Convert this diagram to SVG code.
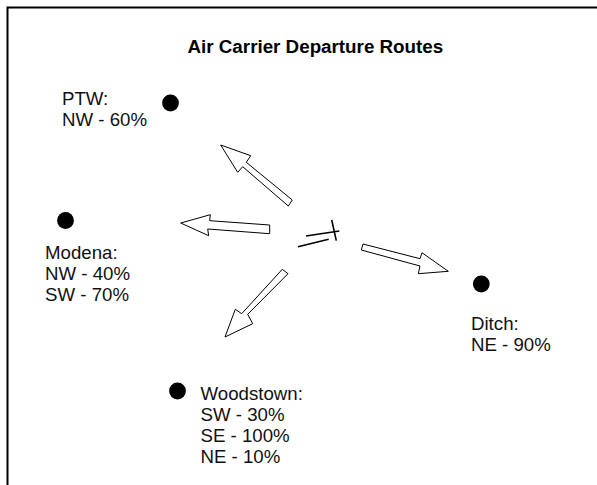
<svg xmlns="http://www.w3.org/2000/svg" width="597" height="485" viewBox="0 0 597 485">
<style>
text{font-family:"Liberation Sans",Arial,sans-serif;font-size:18.67px;fill:#111}
.t{font-weight:bold;font-size:18.8px;fill:#000}
.a{fill:#fff;stroke:#000;stroke-width:1}
.r{fill:none;stroke:#000;stroke-width:1.6}
.d{fill:#000}
</style>
<rect width="597" height="485" fill="#fff"/>
<path id="frame" d="M7.500 485V7.500H597" fill="none" stroke="#000" stroke-width="2"/>
<text id="title" class="t" x="187.500" y="53">Air Carrier Departure Routes</text>
<g id="ptw"><circle class="d" cx="170.500" cy="103" r="8.400"/><text x="62" y="105">PTW:</text><text x="62" y="126">NW - 60%</text></g>
<g id="modena"><circle class="d" cx="65.500" cy="220.500" r="8.400"/><text x="45" y="259">Modena:</text><text x="45" y="280">NW - 40%</text><text x="45" y="301">SW - 70%</text></g>
<g id="ditch"><circle class="d" cx="481.300" cy="284" r="8.400"/><text x="471" y="330">Ditch:</text><text x="471" y="351">NE - 90%</text></g>
<g id="woodstown"><circle class="d" cx="177.500" cy="391" r="8.400"/><text x="200.500" y="400">Woodstown:</text><text x="200.500" y="421">SW - 30%</text><text x="200.500" y="442">SE - 100%</text><text x="200.500" y="463">NE - 10%</text></g>
<g id="connectors">
<polygon class="a" points="220.700,145 250.700,155.700 246.300,162.300 292.300,200 288.300,206 242.700,166.700 237.700,172.300"/>
<polygon class="a" points="180.700,223 210.300,214.700 209.700,220.700 269.700,225 269.700,233.700 207.700,229 208.700,235.700"/>
<polygon class="a" points="282.300,269.300 288,273.700 247.700,314.300 252.700,323.700 225,337 235.300,309.300 241.700,313.700"/>
<polygon class="a" points="363,244 361.300,250 420,266 418.300,273.700 448.300,271.300 422,252.700 420,258.700"/>
<path class="r" d="M306 236L339.300 231M298 246.700L328.700 239.300M331.700 220L336.300 240.700"/>
</g>
</svg>
